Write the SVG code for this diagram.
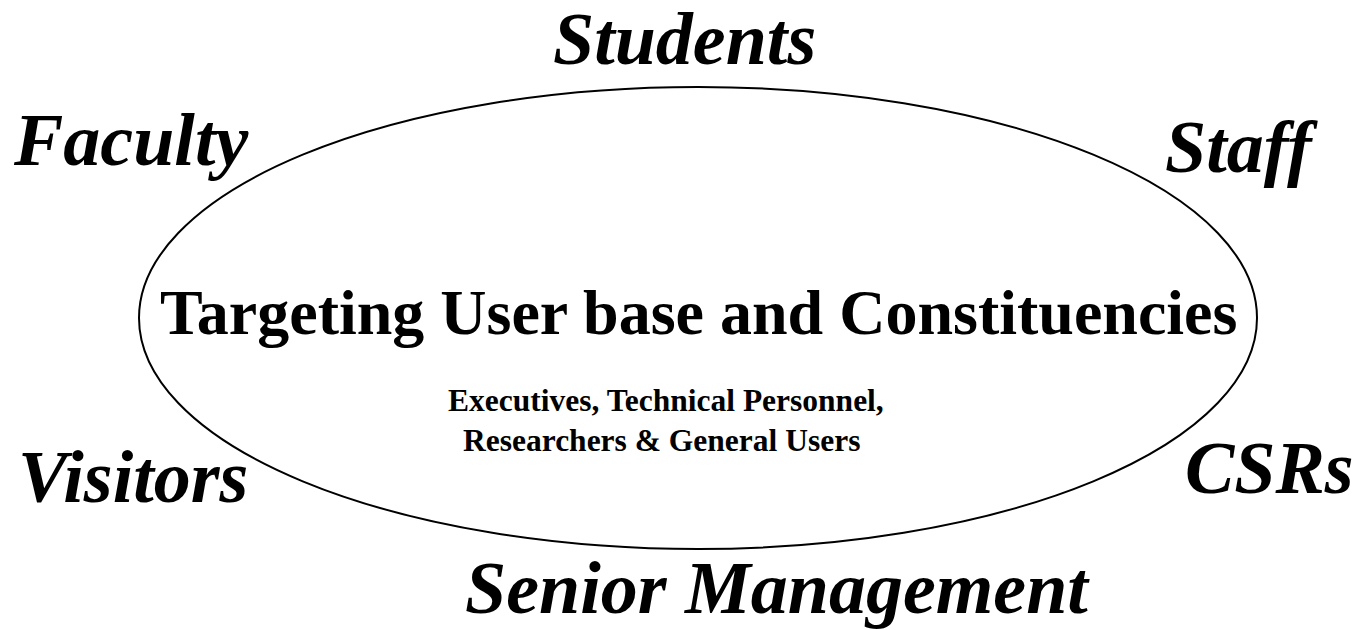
<svg xmlns="http://www.w3.org/2000/svg" width="1355" height="630" viewBox="0 0 1355 630">
<style>
.lbl{font-family:"Liberation Serif","Times New Roman",serif;font-weight:bold;font-style:italic;font-size:74px;fill:#000}
.title{font-family:"Liberation Serif","Times New Roman",serif;font-weight:bold;font-size:64px;fill:#000}
.sub{font-family:"Liberation Serif","Times New Roman",serif;font-weight:bold;font-size:31.5px;fill:#000}
</style>
<rect width="1355" height="630" fill="#fff"/>
<g id="center">
<ellipse cx="698" cy="318" rx="559" ry="231" fill="none" stroke="#000" stroke-width="2"/>
<text class="title" x="160" y="334">Targeting User base and Constituencies</text>
<text class="sub" x="448" y="411">Executives, Technical Personnel,</text>
<text class="sub" x="463" y="451">Researchers &amp; General Users</text>
</g>
<g id="students"><text class="lbl" x="553" y="64">Students</text></g>
<g id="faculty"><text class="lbl" x="14" y="165">Faculty</text></g>
<g id="staff"><text class="lbl" x="1165" y="172">Staff</text></g>
<g id="visitors"><text class="lbl" x="18" y="502">Visitors</text></g>
<g id="csrs"><text class="lbl" x="1185" y="493">CSRs</text></g>
<g id="senior"><text class="lbl" x="465" y="613">Senior Management</text></g>
<g id="connectors"></g>
</svg>
